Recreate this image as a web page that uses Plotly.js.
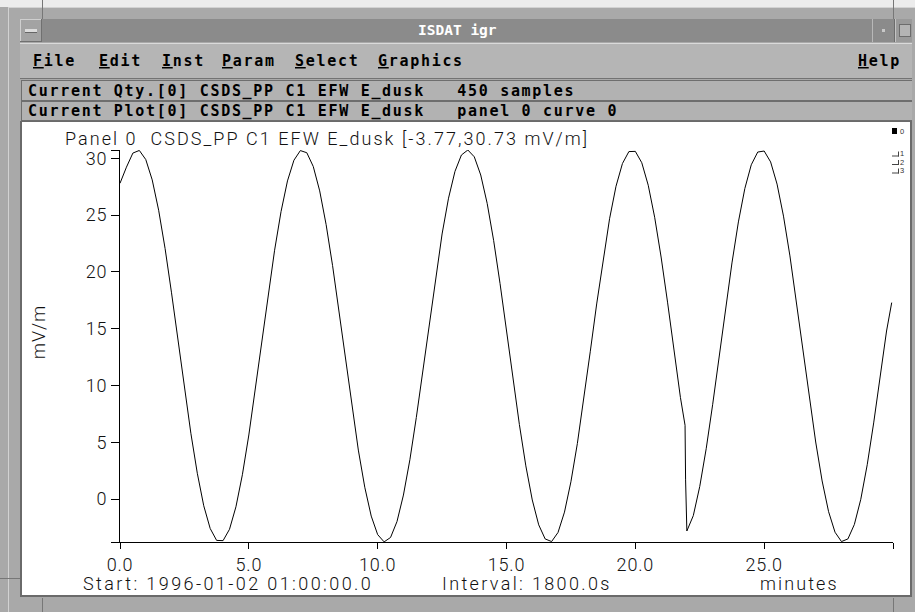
<!DOCTYPE html>
<html><head><meta charset="utf-8">
<script src="https://cdn.plot.ly/plotly-3.0.1.min.js"></script>
<style>
html,body{margin:0;padding:0;background:#a8a8a8;overflow:hidden;}
#chart{width:915px;height:612px;}
.xtick text,.ytick text{letter-spacing:0.8px;}
</style></head><body><div id="chart"></div>
<script>
// ---- data (minutes since start, E_dusk in mV/m) ----
const xMinutes = [
 0,0.25,0.5,0.75,1,1.25,1.5,1.75,2,2.25,2.5,2.75,3,3.25,3.5,3.75,4,4.25,4.5,4.75,
 5,5.25,5.5,5.75,6,6.25,6.5,6.75,7,7.25,7.5,7.75,8,8.25,8.5,8.75,9,9.25,9.5,9.75,
 10,10.25,10.5,10.75,11,11.25,11.5,11.75,12,12.25,12.5,12.75,13,13.25,13.5,13.75,14,14.25,14.5,14.75,
 15,15.25,15.5,15.75,16,16.25,16.5,16.75,17,17.25,17.5,17.75,18,18.25,18.5,18.75,19,19.25,19.5,19.75,
 20,20.25,20.5,20.75,21,21.25,21.5,21.75,21.93,21.95,22,
 22.25,22.5,22.75,23,23.25,23.5,23.75,24,24.25,24.5,24.75,25,25.25,25.5,25.75,26,26.25,26.5,26.75,
 27,27.25,27.5,27.75,28,28.25,28.5,28.75,29,29.25,29.5,29.75,29.95
];
const eDusk = [
 27.8,29.22,30.46,30.69,29.89,28.10,25.43,22.06,18.16,13.99,
 9.78,5.80,2.28,-0.58,-2.58,-3.63,-3.65,-2.65,-0.67,2.15,
 5.65,9.62,13.82,18.00,21.91,25.31,28.01,29.83,30.68,30.49,
 29.28,27.13,24.16,20.55,16.51,12.30,8.15,4.32,1.05,-1.49,
 -3.12,-3.76,-3.37,-1.97,0.36,3.47,7.19,11.28,15.51,19.61,
 23.34,26.49,28.85,30.29,30.73,30.13,28.53,26.03,22.78,18.97,
 14.83,10.61,6.57,2.93,-0.07,-2.26,-3.50,-3.73,-2.93,-1.14,
 1.53,4.90,8.80,12.97,17.18,21.16,24.68,27.54,29.54,30.59,
 30.61,29.61,27.63,24.81,21.31,17.34,13.14,8.96,6.5,1.7,-2.8,
 -1.45,1.12,4.44,8.31,12.50,16.75,20.79,24.40,27.34,29.43,30.55,30.64,29.68,27.73,24.91,21.41,17.41,13.18,8.97,
 5.03,1.60,-1.10,-2.91,-3.73,-3.50,-2.23,-0.01,3.03,6.71,10.80,14.80,17.3
];
const xTickVals = [0,5,10,15,20,25,30];
const xTickText = ['0.0','5.0','10.0','15.0','20.0','25.0',''];
const yTickVals = [-3.77,0,5,10,15,20,25,30,30.73];
const yTickText = ['','0','5','10','15','20','25','30',''];
const windowTitle = 'ISDAT igr';
const menuItems = ['<u>F</u>ile','<u>E</u>dit','<u>I</u>nst','<u>P</u>aram','<u>S</u>elect','<u>G</u>raphics','<u>H</u>elp'];
const statusQty = 'Current Qty.[0] CSDS_PP C1 EFW E_dusk\u00A0\u00A0\u00A0450 samples';
const statusPlot = 'Current Plot[0] CSDS_PP C1 EFW E_dusk\u00A0\u00A0\u00A0panel 0 curve 0';
const panelTitle = 'Panel 0\u00A0\u00A0CSDS_PP C1 EFW E_dusk [-3.77,30.73 mV/m]';
const yUnit = 'mV/m';
const startText = 'Start: 1996-01-02 01:00:00.0';
const intervalText = 'Interval: 1800.0s';
const xUnit = 'minutes';
const panelIds = ['0','1','2','3'];

// ---- pixel helpers (layout only) ----
const W=915,H=612,L=120,R=893,T=150,B=542;
const X = p => (p-L)/(R-L);
const Y = p => (B-p)/(B-T);
const shapes = [];
function rect(x0,y0,x1,y1,fill){
  shapes.push({type:'rect',xref:'paper',yref:'paper',x0:X(x0),x1:X(x1),y0:Y(y1),y1:Y(y0),
    fillcolor:fill,line:{width:0},layer:'below'});
}
function hline(x0,x1,y,c){ rect(x0,y,x1,y+1,c); }
function vline(x,y0,y1,c){ rect(x,y0,x+1,y1,c); }

// outside / frame
rect(0,0,W,7,'#ececec');
rect(0,7,W,H,'#a9a9a9');
hline(9,W,7,'#d2d2d2');
vline(8,7,H,'#d2d2d2');
vline(42,0,19,'#777');
vline(893,0,19,'#777');
hline(0,20,578,'#777');
vline(42,598,H,'#777');
vline(893,598,H,'#777');
// title bar
rect(20,19,912,42,'#8b8b8b');
rect(20,19,42,42,'#a3a3a3');
hline(20,42,19,'#cfcfcf'); vline(20,19,42,'#cfcfcf');
hline(20,42,41,'#707070'); vline(41,19,42,'#707070');
rect(25,29,37,32,'#dcdcdc'); hline(25,37,32,'#666');
vline(872,19,42,'#b8b8b8');
rect(882,29,885,32,'#c8c8c8');
vline(894,19,42,'#6c6c6c'); vline(895,19,42,'#c4c4c4');
rect(896,19,912,42,'#9a9a9a');
rect(899,24,911,37,'#6c6c6c'); rect(900,25,910,36,'#b4b4b4');
// menu bar
rect(20,43,912,79,'#b5b5b5');
hline(20,912,43,'#dadada');
hline(20,912,78,'#737373');
// status lines
rect(21,80,912,121,'#6e6e6e');
rect(22,81,912,100,'#b2b2b2');
rect(22,102,912,120,'#b2b2b2');
// canvas
rect(20,121,912,597,'#6a6a6a');
rect(22,122,910,595,'#ffffff');
// panel indicators
rect(892,128,897,134,'#000');
[153.5,162,170.5].forEach(c=>{ hline(892,899,c+2,'#444'); vline(898,c-2,c+3,'#444'); });

// ---- annotations ----
const mono = {family:'DejaVu Sans Mono', size:15, weight:'bold', color:'#000'};
const sans = {family:'Roboto', size:18, weight:300, color:'#111'};
const anns = [];
const spacing = [];
function txt(text,px,py,font,opt,ls){
  anns.push(Object.assign({xref:'paper',yref:'paper',x:X(px),y:Y(py),text:text,showarrow:false,
    xanchor:'left',align:'left',yanchor:'middle',font:font,borderpad:0,borderwidth:0},opt||{}));
  spacing.push(ls||0);
}
txt(windowTitle,457,30,{family:'DejaVu Sans Mono',size:14.5,weight:'bold',color:'#fff'},{xanchor:'center',align:'center'});
const menuX=[33,99,162,222,295,378,858];
menuItems.forEach((m,i)=>txt(m,menuX[i],61,mono,null,1.7));
txt(statusQty,28,91,mono,null,1.7);
txt(statusPlot,28,111,mono,null,1.7);
txt(panelTitle,65,138,sans,null,2.05);
txt(yUnit,38,332,sans,{xanchor:'center',align:'center',textangle:-90},1);
txt(startText,83,583,sans,null,2.4);
txt(intervalText,442,583,sans,null,2.35);
txt(xUnit,760,583,sans,null,2.1);
const idY=[131.5,153.5,162,170.5];
panelIds.forEach((d,i)=>txt(d,900,idY[i],{family:'Liberation Sans',size:7.5,color:'#333'}));

// letter spacing css
let css='';
spacing.forEach((s,i)=>{ if(s) css+='g.annotation[data-index="'+i+'"] text{letter-spacing:'+s+'px;}'; });
const st=document.createElement('style'); st.textContent=css; document.head.appendChild(st);

const trace = {x:xMinutes, y:eDusk, type:'scatter', mode:'lines', line:{color:'#000',width:1}, hoverinfo:'skip'};
const axisCommon = {showline:true, linecolor:'#000', linewidth:1, ticks:'outside', tickcolor:'#000', tickwidth:1,
  showgrid:false, zeroline:false, tickfont:sans, tickmode:'array', fixedrange:true};
const layout = {
  width:W, height:H, autosize:false,
  margin:{l:L, r:W-R, t:T, b:H-B, pad:0},
  paper_bgcolor:'#a9a9a9', plot_bgcolor:'#ffffff', showlegend:false,
  xaxis:Object.assign({}, axisCommon, {range:[0,30], tickvals:xTickVals, ticktext:xTickText, ticklen:6}),
  yaxis:Object.assign({}, axisCommon, {range:[-3.77,30.73], tickvals:yTickVals, ticktext:yTickText, ticklen:8}),
  shapes:shapes, annotations:anns
};
Plotly.newPlot('chart',[trace],layout,{staticPlot:true,displayModeBar:false});
</script></body></html>
